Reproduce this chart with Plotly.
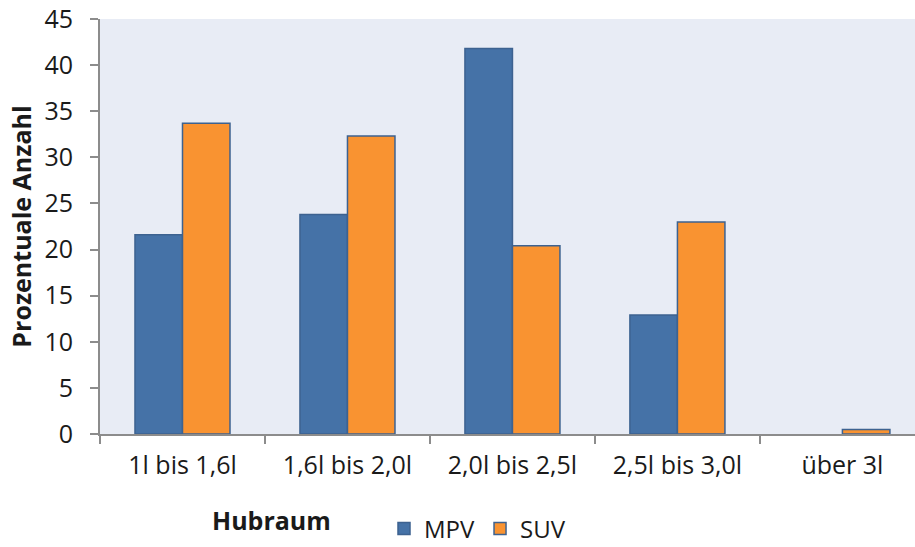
import plotly.graph_objects as go

# Engine displacement classes and the share of vehicles in each (percent)
categories = ["1l bis 1,6l", "1,6l bis 2,0l", "2,0l bis 2,5l", "2,5l bis 3,0l", "über 3l"]
mpv_values = [21.6, 23.8, 41.8, 12.9, 0.0]
suv_values = [33.7, 32.3, 20.4, 23.0, 0.5]
y_ticks = [0, 5, 10, 15, 20, 25, 30, 35, 40, 45]

FONT = "Open Sans"
TEXT = "#1a1a1a"
AXIS = "#8c8c8c"
W, H = 915, 547


def outline(values):
    # no outline on empty bars, so a zero value leaves no sliver on the axis
    return dict(color="#3d6290", width=[1.5 if v > 0 else 0 for v in values])


fig = go.Figure()
fig.add_trace(go.Bar(name="MPV", x=categories, y=mpv_values,
                     marker=dict(color="#4572a7", line=outline(mpv_values))))
fig.add_trace(go.Bar(name="SUV", x=categories, y=suv_values,
                     marker=dict(color="#f99331", line=outline(suv_values))))

fig.update_layout(
    width=W, height=H,
    margin=dict(l=100, r=0, t=19, b=113),
    paper_bgcolor="white",
    plot_bgcolor="#e8ecf5",
    barmode="group",
    bargap=0.424,
    bargroupgap=0,
    font=dict(family=FONT, size=25, color=TEXT),
    showlegend=True,
    legend=dict(orientation="h", xref="container", yref="container",
                x=384 / W, y=1 - 529 / H,
                xanchor="left", yanchor="middle",
                font=dict(size=24, family=FONT, color=TEXT),
                itemwidth=30, bgcolor="rgba(0,0,0,0)"),
)

fig.update_xaxes(
    range=[-0.5, 4.44],
    showline=True, linecolor=AXIS, linewidth=2,
    ticks="outside", tickson="boundaries", ticklen=8, tickcolor=AXIS, tickwidth=2,
    showgrid=False, zeroline=False,
    tickfont=dict(size=25, family=FONT, color=TEXT),
    ticklabelstandoff=8,
)

fig.update_yaxes(
    range=[0, 45], tickvals=y_ticks,
    showline=True, linecolor=AXIS, linewidth=2,
    ticks="outside", ticklen=8, tickcolor=AXIS, tickwidth=2,
    showgrid=False, zeroline=False,
    tickfont=dict(size=25, family=FONT, color=TEXT),
    ticklabelstandoff=12,
    title=dict(text="<b>Prozentuale Anzahl</b>",
               font=dict(size=25, family=FONT, color=TEXT), standoff=6),
)

# x-axis title sits to the left, beside the legend
fig.add_annotation(text="<b>Hubraum</b>", xref="paper", yref="paper",
                   x=(271 - 100) / 815, y=(434 - 520) / 415,
                   xanchor="center", yanchor="middle",
                   showarrow=False, font=dict(size=25, family=FONT, color=TEXT))

fig.write_html("out.html")
